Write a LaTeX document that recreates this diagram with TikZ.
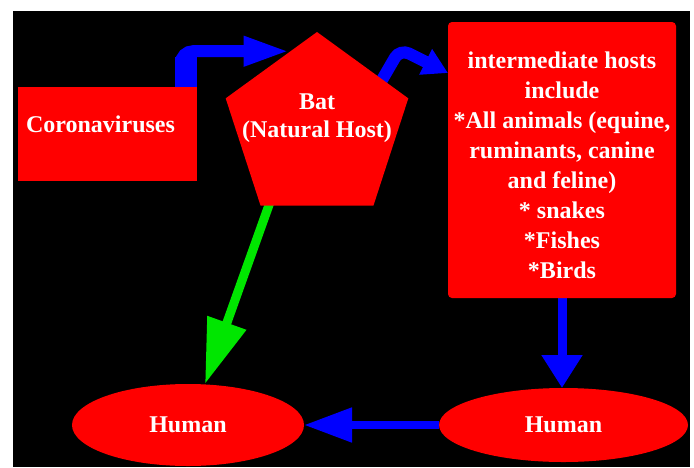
\documentclass[tikz,border=0pt]{standalone}
\usepackage{fontspec}
\setmainfont{Liberation Serif}
\usetikzlibrary{positioning, shapes.geometric, arrows.meta, calc}

\definecolor{hostred}{RGB}{255,0,0}
\definecolor{linkblue}{RGB}{0,0,255}
\definecolor{linkgreen}{RGB}{0,230,0}
\newcommand{\hostfont}{\bfseries\fontsize{24}{28}\selectfont}

\pgfdeclarelayer{canvas}
\pgfdeclarelayer{links}
\pgfsetlayers{canvas,links,main}

\begin{document}
\begin{tikzpicture}[x=1pt, y=-1pt,
    host/.style={fill=hostred, text=white, font=\hostfont, inner sep=0pt, outer sep=0pt},
    every label/.style={text=white, font=\hostfont, align=center},
    bluelink/.style={draw=linkblue, line width=#1}]

        \useasboundingbox (0,0) rectangle (694,467);
        \begin{pgfonlayer}{canvas}
            \fill[black] (13,11) rectangle (690,467);
        \end{pgfonlayer}

        %-----Entities-----

        % Coronaviruses Entity
        \node[host, rectangle, minimum width=179pt, minimum height=94pt,
              label={[xshift=-7pt, yshift=10pt]center:Coronaviruses}] (corona) at (107.5,134) {};

        % Bat Entity
        \node[host, regular polygon, regular polygon sides=5, minimum size=192pt,
              label={[yshift=10pt]center:Bat\\(Natural Host)}] (bat) at (317,128) {};

        % Intermediate Hosts Entity
        \node[host, rectangle, rounded corners=4pt, minimum width=228pt, minimum height=276pt,
              label={[yshift=-5pt, font=\bfseries\fontsize{24}{30}\selectfont]center:intermediate hosts\\include\\*All animals (equine,\\ruminants, canine\\and feline)\\* snakes\\*Fishes\\*Birds}]
              (inter) at (562,160) {};

        % Human Entities
        \node[host, ellipse, minimum width=232pt, minimum height=82pt] (human1) at (188,425) {Human};
        \node[host, ellipse, minimum width=249pt, minimum height=74pt] (human2) at (563.5,425) {Human};

        \coordinate (bend) at (400,49);

        %-----Links-----
        \begin{pgfonlayer}{links}

        % Coronaviruses to Bat
        \draw[linkblue, line width=22pt] ($(corona.north east)+(-11,0)$) -- ++(0,-30);
        \draw[bluelink=12pt, rounded corners=12pt, -{Triangle[length=47pt, width=27pt]}]
            ($(corona.north east)+(-16,0)$) |- ($(bat.corner 1)!0.29!(bat.corner 2)$);

        % Bat to Intermediate Hosts
        \draw[bluelink=12pt, rounded corners=10pt, -{Triangle[length=25pt, width=27pt]}]
            ($(bat.center)!0.5!(bat.corner 5)$) -- (bend) -- ($(inter.north west)+(0,51)$);

        % Bat to Human
        \draw[draw=linkgreen, line width=9pt, -{Triangle[length=65pt, width=39pt]}]
            ($(bat.corner 3)!0.12!(bat.corner 4)+(0,-15)$) -- ($(human1.north)+(17,0)$);

        % Intermediate Hosts to Human
        \draw[bluelink=9pt, -{Triangle[length=33pt, width=39pt]}] (inter.south) -- (inter.south |- human2.north);

        % Human to Human
        \draw[bluelink=8pt, -{Triangle[length=48pt, width=33pt]}] (human2.west) -- (human1.east);

        \end{pgfonlayer}

\end{tikzpicture}
\end{document}
